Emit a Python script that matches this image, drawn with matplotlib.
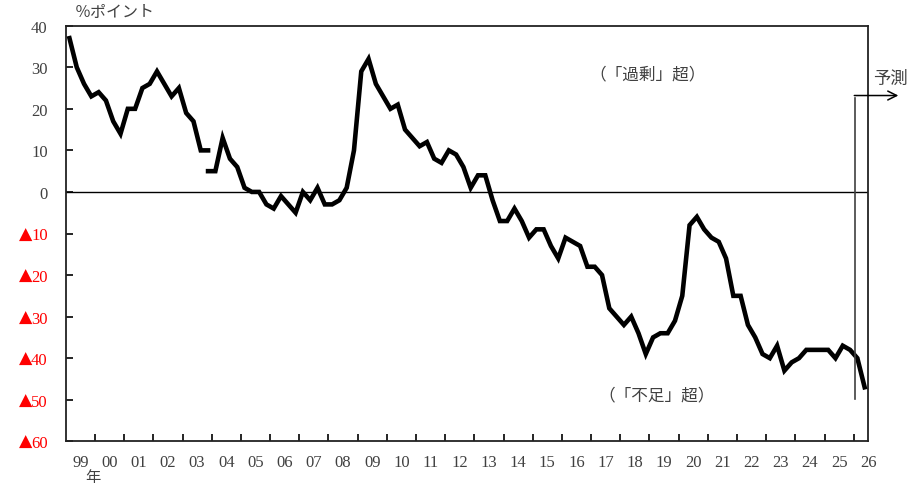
import matplotlib
matplotlib.use("Agg")
import matplotlib.pyplot as plt
import matplotlib.transforms as mtransforms
import numpy as np

# ---- data (quarterly DI, %points) ----
start_year = 1999
# old basis: 1999Q1 .. 2003Q4
old_values = [37, 30, 26, 23, 24, 22, 17, 14, 20, 20, 25, 26, 29, 26, 23, 25,
              19, 17, 10, 10]
# new basis: 2003Q4 .. 2026Q2 (last points forecast)
new_start_index = 19
new_values = [5,
              5, 13, 8, 6,
              1, 0, 0, -3,
              -4, -1, -3, -5,
              0, -2, 1, -3,
              -3, -2, 1, 10,
              29, 32, 26, 23,
              20, 21, 15, 13,
              11, 12, 8, 7,
              10, 9, 6, 1,
              4, 4, -2, -7,
              -7, -4, -7, -11,
              -9, -9, -13, -16,
              -11, -12, -13, -18,
              -18, -20, -28, -30,
              -32, -30, -34, -39,
              -35, -34, -34, -31,
              -25, -8, -6, -9,
              -11, -12, -16, -25,
              -25, -32, -35, -39,
              -40, -37, -43, -41,
              -40, -38, -38, -38,
              -38, -40, -37, -38,
              -40, -47]
year_labels = ['99'] + [f"{y % 100:02d}" for y in range(2000, 2027)]
yticks = [40, 30, 20, 10, 0, -10, -20, -30, -40, -50, -60]
forecast_x = 2026.06

def qpos(i):
    return start_year + (i + 0.5) / 4.0

SERIF = ['Liberation Serif', 'DejaVu Sans']
JP = ['Noto Sans CJK JP', 'DejaVu Sans']
GRAY = '#404040'

fig = plt.figure(figsize=(9.23, 4.85), dpi=100)
ax = fig.add_axes([65.8 / 923, 1 - 442.3 / 485, (868.3 - 65.8) / 923, (442.3 - 26.7) / 485])

x_old = [qpos(i) for i in range(len(old_values))]
x_new = [qpos(new_start_index + i) for i in range(len(new_values))]
ax.plot(x_old, old_values, color='black', lw=3.3, solid_joinstyle='miter', zorder=3)
ax.plot(x_new, new_values, color='black', lw=3.3, solid_joinstyle='miter', zorder=3)

ax.axhline(0, color='black', lw=1.0, zorder=2)

ax.set_xlim(start_year, start_year + 27.48)
ax.set_ylim(-60, 40)

# x ticks: marks at year boundaries, labels at mid-year
ax.set_xticks(np.arange(start_year + 1, start_year + 28))
ax.set_xticklabels([])
ax.set_xticks([start_year + k + 0.5 for k in range(len(year_labels))], minor=True)
ax.set_xticklabels(year_labels, minor=True, fontfamily=SERIF, fontsize=12, color=GRAY)
ax.tick_params(axis='x', which='major', direction='in', length=5, width=1.2, color='black')
ax.tick_params(axis='x', which='minor', length=0, pad=9)

ax.set_yticks(yticks)
ax.set_yticklabels([str(abs(v)) for v in yticks], fontfamily=SERIF, fontsize=12)
for lab, v in zip(ax.get_yticklabels(), yticks):
    lab.set_color('red' if v < 0 else GRAY)
ax.tick_params(axis='y', direction='in', length=5, width=1.2, pad=13, color='black')

# negative marker ▲ in front of negative tick labels
trans = mtransforms.blended_transform_factory(fig.transFigure, ax.transData)
for v in yticks:
    if v < 0:
        ax.text(25.3 / 923, v, '▲', transform=trans, fontfamily=['DejaVu Sans'],
                fontsize=12.5, color='red', ha='center', va='center', clip_on=False)

for s in ax.spines.values():
    s.set_linewidth(1.3)
    s.set_color('#222222')

# forecast marker
ax.plot([forecast_x, forecast_x], [-49.9, 22.5], color=GRAY, lw=1.2, clip_on=False, zorder=4)
ax.annotate('', xy=(2027.53, 23.2), xytext=(2026.02, 23.2),
            xycoords='data', annotation_clip=False,
            arrowprops=dict(arrowstyle='->', color='black', lw=1.1, mutation_scale=16,
                            shrinkA=0, shrinkB=0))
fig.text(890 / 923, 1 - 79 / 485, '予測', fontfamily=JP, fontsize=12.5, color=GRAY,
         ha='center', va='center')

ax.text(2018.94, 28.4, '（「過剰」超）', fontfamily=JP, fontsize=12, color=GRAY,
        ha='center', va='center')
ax.text(2019.25, -48.9, '（「不足」超）', fontfamily=JP, fontsize=12, color=GRAY,
        ha='center', va='center')

fig.text(115 / 923, 1 - 12 / 485, '％ポイント', fontfamily=JP, fontsize=11.5, color=GRAY,
         ha='center', va='center')
fig.text(93 / 923, 1 - 478 / 485, '年', fontfamily=JP, fontsize=11, color=GRAY,
         ha='center', va='center')

fig.savefig('out.png', dpi=100)
